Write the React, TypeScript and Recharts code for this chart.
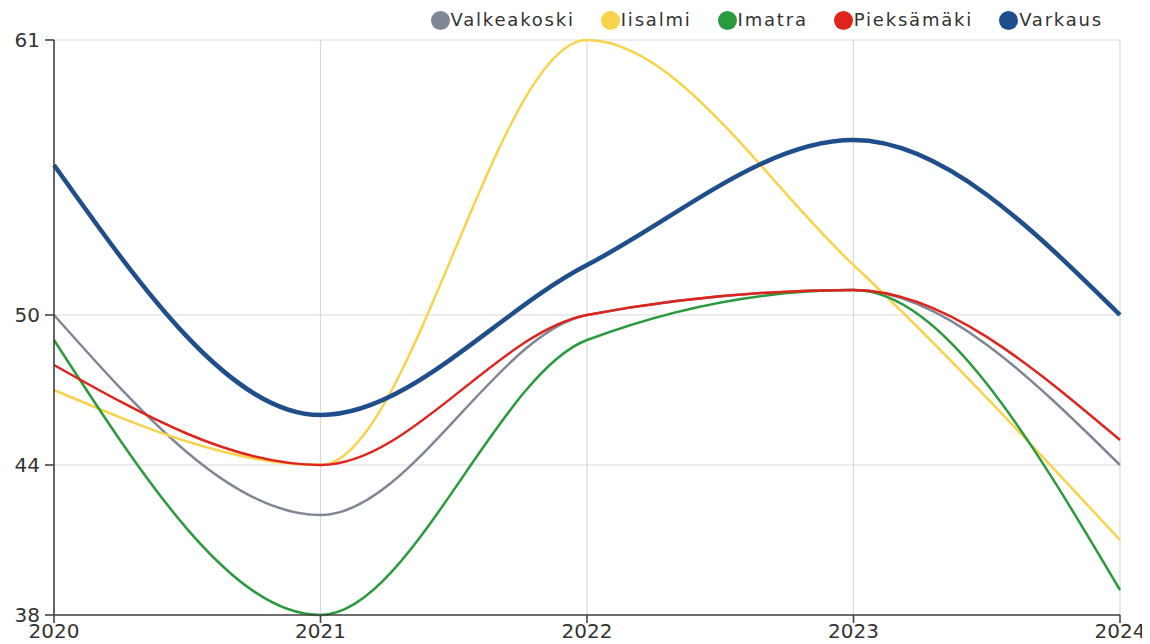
import { LineChart, Line, XAxis, YAxis, CartesianGrid } from "recharts";

const years = ["2020", "2021", "2022", "2023", "2024"];
const valkeakoski = [50, 42, 50, 51, 44];
const iisalmi = [47, 44, 61, 52, 41];
const imatra = [49, 38, 49, 51, 39];
const pieksamaki = [48, 44, 50, 51, 45];
const varkaus = [56, 46, 52, 57, 50];
const yTicks = [38, 44, 50, 61];

const series = [
  { key: "Valkeakoski", color: "#7f8796", width: 2.5 },
  { key: "Iisalmi", color: "#f8d34b", width: 2.5 },
  { key: "Imatra", color: "#2a9a3f", width: 2.5 },
  { key: "Pieksämäki", color: "#e0241c", width: 2.5 },
  { key: "Varkaus", color: "#1f4e8c", width: 4.5 },
];

const data = years.map((year, i) => ({
  year,
  Valkeakoski: valkeakoski[i],
  Iisalmi: iisalmi[i],
  Imatra: imatra[i],
  Pieksämäki: pieksamaki[i],
  Varkaus: varkaus[i],
}));

const font = "'DejaVu Sans', sans-serif";
const tickStyle = { fill: "#333", fontSize: 20, fontFamily: font };

const ChartLegend = () => (
  <div
    style={{
      position: "absolute",
      top: 1,
      right: 47,
      display: "flex",
      gap: 26,
      fontFamily: font,
      fontSize: 18,
      letterSpacing: 1.8,
      lineHeight: "22px",
      color: "#333",
    }}
  >
    {series.map((s) => (
      <div key={s.key} style={{ display: "flex", alignItems: "center" }}>
        <span
          style={{
            display: "inline-block",
            width: 19,
            height: 19,
            borderRadius: "50%",
            background: s.color,
            marginRight: 1,
          }}
        />
        <span>{s.key}</span>
      </div>
    ))}
  </div>
);

export default function App() {
  return (
    <div style={{ position: "relative", width: 1142, height: 636 }}>
      <LineChart width={1142} height={636} data={data} margin={{ top: 32, right: 30, left: 0, bottom: 0 }}>
        <CartesianGrid stroke="#d9d9d9" strokeWidth={1.2} />
        <XAxis
          dataKey="year"
          stroke="#444"
          strokeWidth={1.6}
          tick={tickStyle}
          tickSize={8}
          tickMargin={1}
          height={29}
          interval={0}
        />
        <YAxis
          type="number"
          domain={[38, 61]}
          ticks={yTicks}
          stroke="#444"
          strokeWidth={1.6}
          tick={tickStyle}
          tickSize={9}
          tickMargin={5}
          width={46}
          interval={0}
        />
        {series.map((s) => (
          <Line
            key={s.key}
            type="monotone"
            dataKey={s.key}
            stroke={s.color}
            strokeWidth={s.width}
            dot={false}
            activeDot={false}
            isAnimationActive={false}
          />
        ))}
      </LineChart>
      <ChartLegend />
    </div>
  );
}
